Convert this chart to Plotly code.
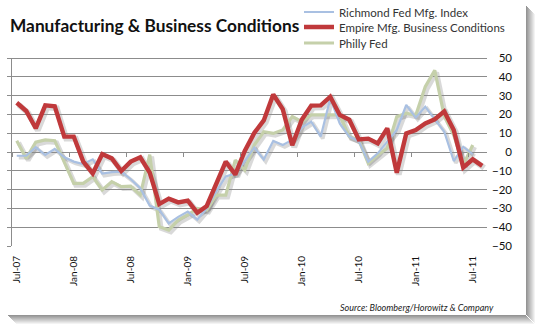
import math
import plotly.graph_objects as go

# ---------------- data ----------------
months = ["Jul-07", "Aug-07", "Sep-07", "Oct-07", "Nov-07", "Dec-07",
          "Jan-08", "Feb-08", "Mar-08", "Apr-08", "May-08", "Jun-08",
          "Jul-08", "Aug-08", "Sep-08", "Oct-08", "Nov-08", "Dec-08",
          "Jan-09", "Feb-09", "Mar-09", "Apr-09", "May-09", "Jun-09",
          "Jul-09", "Aug-09", "Sep-09", "Oct-09", "Nov-09", "Dec-09",
          "Jan-10", "Feb-10", "Mar-10", "Apr-10", "May-10", "Jun-10",
          "Jul-10", "Aug-10", "Sep-10", "Oct-10", "Nov-10", "Dec-10",
          "Jan-11", "Feb-11", "Mar-11", "Apr-11", "May-11", "Jun-11",
          "Jul-11", "Aug-11"]

richmond = [-2, -2, 2.5, -1.6, 1.6, -2.8,
            -5.1, -6.4, -3.9, -11.5, -10.7, -10.5,
            -14.5, -19.3, -28.5, -30.7, -38, -34.5,
            -31.7, -36, -30, -21, -13, -11.5,
            -4.8, 2.4, -4, 5.9, 3.7, 6.4,
            13, 16.1, 8.2, 28.5, 15.2, 8.2,
            5.8, -5.1, -0.7, 5.5, 11.7, 25,
            18.3, 24.1, 17.5, 10.8, -4.8, 2.8,
            -1.2, None]

empire = [26.2, 21.8, 12.6, 24.8, 24.3, 8.2,
          8.2, -5.1, -11.4, -1.1, -3.4, -10.1,
          -5.1, -2.8, -11, -27.7, -24.8, -26.8,
          -25.9, -32.3, -28.7, -17.5, -5.1, -12,
          0.6, 10.1, 16.8, 30.6, 22.8, 3.6,
          17.2, 24.7, 24.8, 29.4, 19.7, 17.2,
          6.7, 7.1, 4.6, 12.6, -11, 9.9,
          11.7, 15.2, 17.4, 21.6, 11.7, -8.2,
          -3.9, -7.4]

philly = [6, -3.4, 5.2, 6.4, 6, -5.7,
          -16.7, -16.7, -13.1, -20.2, -15.8, -18.4,
          -18.2, -22.9, -1.4, -39.7, -41.5, -36.2,
          -33.5, -30, -30.9, -22.9, -22.9, -4.3,
          -9.6, 3.7, 10.8, 9.9, 11.7, 18.8,
          16.1, 19.7, 19.7, 19.9, 19.7, 8.2,
          6.4, -6, -1.6, 2, 18.8, 20.6,
          19.5, 34.7, 43.4, 19, 9, -6.9,
          3.7, None]

tick_labels = ["Jul-07", "Jan-08", "Jul-08", "Jan-09", "Jul-09",
               "Jan-10", "Jul-10", "Jan-11", "Jul-11"]

y_min, y_max, y_step = -50, 50, 10

# ---------------- geometry ----------------
W, H = 542, 332
L, R, T, B = 12, 30, 58, 86
plotW = W - L - R
plotH = H - T - B
xd = 475 / plotW
n = len(months)
xs = list(range(n))
tick_pos = [months.index(t) for t in tick_labels]
tick_bounds = [months.index(t) - 0.5 for t in tick_labels]
grid_vals = list(range(y_min, y_max + 1, y_step))

px_per_x = 475 / n
px_per_y = plotH / (y_max - y_min)
dxu = 2.0 / px_per_x
dyu = 2.0 / px_per_y


def pxx(p):
    return (p - L) / plotW


def pxy(p):
    return (H - B - p) / plotH


def crisp(v):
    # nudge a 1px horizontal rule onto a pixel-row centre so it renders sharp
    pix = T + (y_max - v) * px_per_y
    target = math.floor(pix) + 0.5
    return v - (target - pix) / px_per_y


GRID = "#8c8c8c"
FONT = "Lato"

fig = go.Figure()

# name, values, colour, width, legend id, legend row centre (px)
series = [
    ("Philly Fed", philly, "#C5D0AA", 3.2, "legend3", 43),
    ("Richmond Fed Mfg. Index", richmond, "#A9C0E2", 2.2, "legend", 12),
    ("Empire Mfg. Business Conditions", empire, "#C0393B", 4.4, "legend2", 27),
]

# base subplot: left axis and category labels (transparent carrier trace)
fig.add_trace(go.Scatter(
    x=xs, y=philly, mode="lines", xaxis="x", yaxis="y",
    line=dict(color="rgba(0,0,0,0)", width=0),
    showlegend=False, hoverinfo="skip"))

# soft drop shadows (same-domain axes offset by 2px right / 2px down)
for name, vals, col, w, lg, row in series:
    fig.add_trace(go.Scatter(
        x=xs, y=vals, mode="lines", xaxis="x2", yaxis="y2",
        line=dict(color="rgba(0,0,0,0.15)", width=w + 1.5),
        showlegend=False, hoverinfo="skip"))

# horizontal gridlines at every value tick, across the full category range
gx, gy = [], []
for v in grid_vals:
    yv = crisp(v)
    gx += [-0.5, n - 0.5, None]
    gy += [yv, yv, None]
fig.add_trace(go.Scatter(
    x=gx, y=gy, mode="lines", xaxis="x3", yaxis="y3",
    line=dict(color=GRID, width=1), showlegend=False, hoverinfo="skip",
    connectgaps=False))

for name, vals, col, w, lg, row in series:
    fig.add_trace(go.Scatter(
        x=xs, y=vals, mode="lines", name=name, xaxis="x3", yaxis="y3",
        line=dict(color=col, width=w), legend=lg,
        text=months, hovertemplate="%{text}: %{y}<extra>" + name + "</extra>"))

# card drop shadow: thin strips right of and below the card (card edge 526 / 315)
shapes = []
steps = 9
for k in range(steps):
    a = 0.42 * (1 - k / steps)
    shapes.append(dict(type="rect", xref="paper", yref="paper", layer="below",
                       x0=pxx(526 + k), x1=pxx(527 + k),
                       y0=pxy(315 + k), y1=pxy(6 + k),
                       line=dict(width=0), fillcolor=f"rgba(0,0,0,{a:.3f})"))
    shapes.append(dict(type="rect", xref="paper", yref="paper", layer="below",
                       x0=pxx(8 + k), x1=pxx(526 + k),
                       y0=pxy(316 + k), y1=pxy(315 + k),
                       line=dict(width=0), fillcolor=f"rgba(0,0,0,{a:.3f})"))

legend_common = dict(xanchor="left", yanchor="middle",
                     font=dict(size=11.5, color="#333", family=FONT),
                     bgcolor="rgba(0,0,0,0)", borderwidth=0)
legends = {}
for name, vals, col, w, lg, row in series:
    legends[lg] = dict(x=pxx(299), y=pxy(row), **legend_common)

fig.update_layout(
    width=W, height=H,
    margin=dict(l=L, r=R, t=T, b=B, pad=0, autoexpand=False),
    paper_bgcolor="white", plot_bgcolor="rgba(0,0,0,0)",
    font=dict(family=FONT, color="#111"),
    shapes=shapes,
    showlegend=True,
    **legends,
    title=dict(text="<b>Manufacturing &amp; Business Conditions</b>",
               x=10 / W, xref="container", xanchor="left",
               y=1 - 26 / H, yref="container", yanchor="middle",
               font=dict(size=17.3, family=FONT, color="#111")),
    xaxis=dict(domain=[0, xd], anchor="y", range=[-0.5, n - 0.5],
               tickmode="array", tickvals=tick_pos, ticktext=tick_labels,
               tickangle=-90, ticks="", showgrid=False, zeroline=False,
               showline=False, ticklabelstandoff=7, fixedrange=True,
               tickfont=dict(size=10, color="#111", family=FONT)),
    yaxis=dict(domain=[0, 1], anchor="x", range=[y_min, y_max], dtick=y_step,
               tick0=0, fixedrange=True,
               showgrid=False, zeroline=False,
               showline=True, linecolor=GRID, linewidth=1, ticks="outside",
               ticklen=4, tickcolor=GRID, showticklabels=False, side="left"),
    xaxis2=dict(domain=[0, xd], anchor="y2",
                range=[-0.5 - dxu, n - 0.5 - dxu], visible=False),
    yaxis2=dict(domain=[0, 1], anchor="x2",
                range=[y_min + dyu, y_max + dyu], visible=False),
    xaxis3=dict(domain=[0, xd], anchor="free", position=0.5,
                range=[-0.5, n - 0.5], tickmode="array", tickvals=tick_bounds,
                ticks="outside", ticklen=4, tickcolor=GRID, showticklabels=False,
                showgrid=False, zeroline=False, showline=False),
    yaxis3=dict(domain=[0, 1], anchor="free", position=1, side="left",
                range=[y_min, y_max], dtick=y_step, tick0=0, showgrid=False,
                zeroline=False, showline=False, ticks="",
                tickfont=dict(size=11.5, color="#111", family=FONT)),
    annotations=[dict(text="<i>Source: Bloomberg/Horowitz &amp; Company</i>",
                      xref="paper", yref="paper", x=pxx(338), y=pxy(307),
                      xanchor="left", yanchor="middle", showarrow=False,
                      font=dict(size=9, color="#222", family=FONT))],
)

fig.write_html("out.html")
